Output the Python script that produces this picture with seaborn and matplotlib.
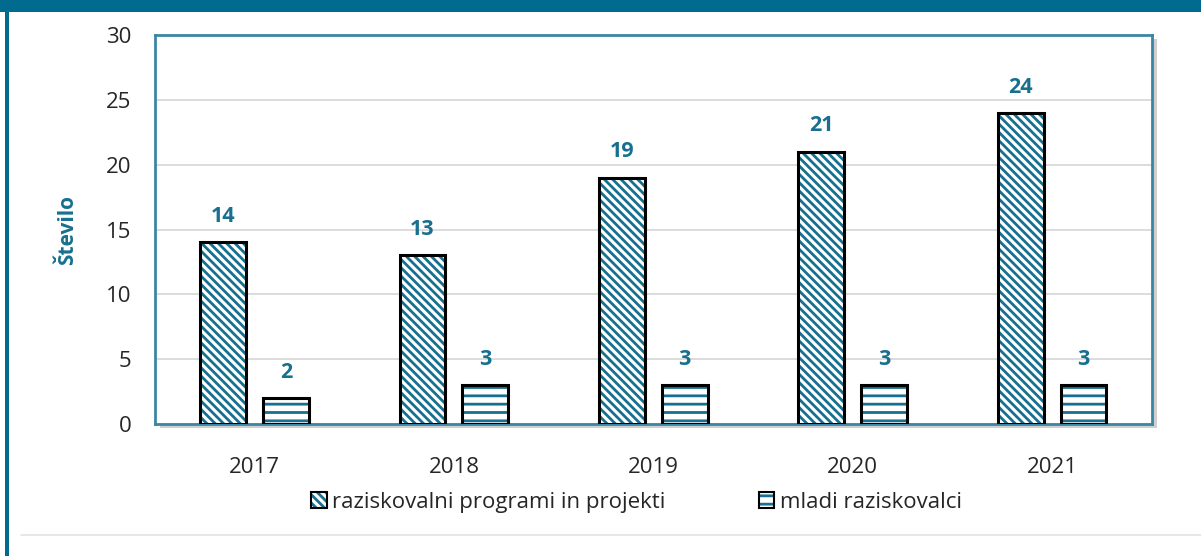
import pandas as pd
import seaborn as sns
import matplotlib.pyplot as plt
from matplotlib.patches import Patch, Rectangle
from matplotlib.legend_handler import HandlerTuple

years = ["2017", "2018", "2019", "2020", "2021"]
programi = [14, 13, 19, 21, 24]
mladi = [2, 3, 3, 3, 3]
series = ["raziskovalni programi in projekti", "mladi raziskovalci"]
hatches = ["\\\\\\\\", "--"]

TEAL = "#17708F"
BAND = "#006B8F"

df = pd.DataFrame({
    "leto": years * 2,
    "vrednost": programi + mladi,
    "serija": [series[0]] * len(years) + [series[1]] * len(years),
})

sns.set_style("white")
plt.rcParams["font.family"] = ["Open Sans", "DejaVu Sans"]
plt.rcParams["hatch.linewidth"] = 2.0

fig = plt.figure(figsize=(12.01, 5.56), dpi=100)
ax = fig.add_axes([0.129, 0.2374, 0.83, 0.6996])

sns.barplot(data=df, x="leto", y="vrednost", hue="serija", hue_order=series,
            palette=["white", "white"], width=0.63, gap=0.27, ax=ax,
            legend=False, zorder=3)

for cont, h in zip(ax.containers, hatches):
    for p in cont:
        p.set_hatch(h)
        p.set_edgecolor(TEAL)
        p.set_linewidth(0)
        ax.add_patch(Rectangle(p.get_xy(), p.get_width(), p.get_height(),
                               fill=False, ec="black", lw=2.2, zorder=4))
    ax.bar_label(cont, padding=11, color=TEAL, fontsize=15.5, fontweight="bold")

ax.set_ylim(0, 30)
ax.set_yticks(range(0, 31, 5))
ax.yaxis.grid(True, color="#D9D9D9", lw=1.3, zorder=0)
ax.set_axisbelow(True)
ax.tick_params(axis="y", length=0, pad=17, labelsize=16)
ax.tick_params(axis="x", length=0, pad=24, labelsize=16)
ax.set_xlabel("")
ax.set_ylabel("Število", color=TEAL, fontsize=15, fontweight="bold", labelpad=20)
for s in ax.spines.values():
    s.set_visible(True)
    s.set_color("#3A86A3")
    s.set_linewidth(2)

# soft shadow behind the plot area
fig.patches.append(Rectangle((0.129 + 0.004, 0.2374 - 0.008), 0.83, 0.6996,
                             transform=fig.transFigure, fc="#CFCFCF", ec="none",
                             zorder=-1))

handles = [(Patch(fc="white", ec=TEAL, lw=0, hatch=h),
            Patch(fc="none", ec="black", lw=1.5)) for h in hatches]
fig.legend(handles, series, loc="center", bbox_to_anchor=(0.53, 0.097),
           ncol=2, frameon=False, fontsize=16, handlelength=0.7,
           handleheight=0.7, handletextpad=0.25, columnspacing=4.2,
           handler_map={tuple: HandlerTuple(ndivide=1, pad=0)})

# outer decoration
fig.patches.append(Rectangle((0, 1 - 12 / 556), 1, 12 / 556,
                             transform=fig.transFigure, fc=BAND, ec="none"))
fig.patches.append(Rectangle((5 / 1201, 0), 4 / 1201, 1,
                             transform=fig.transFigure, fc=BAND, ec="none"))
fig.lines.append(plt.Line2D([21 / 1201, 1], [1 - 535 / 556] * 2,
                            transform=fig.transFigure, color="#E3E3E3", lw=1.2))

fig.savefig("out.png", dpi=100)
